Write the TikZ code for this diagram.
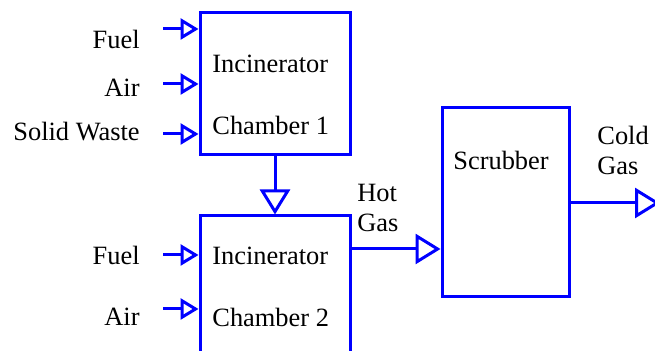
\documentclass[tikz,border=0pt]{standalone}
\usepackage{fontspec}
\setmainfont{LiberationSerif}[Extension=.ttf, UprightFont=*-Regular, BoldFont=*-Bold]
\usetikzlibrary{positioning,arrows.meta}
\definecolor{flowblue}{RGB}{0,0,255}

\begin{document}
\begin{tikzpicture}[
  x=0.5pt, y=-0.5pt,
  font=\rmfamily\fontsize{13.2}{15}\selectfont,
  node distance=29pt,
  unit/.style={rectangle, draw=flowblue, line width=1.5pt, minimum width=75pt,
               minimum height=71pt, inner sep=0pt},
  lbl/.style={inner sep=0pt, align=left},
  feed/.style={-{Triangle[open, length=9pt, width=10.5pt]}, line width=1.5pt, draw=flowblue},
  flow/.style={-{Triangle[open, length=12.5pt, width=15pt]}, line width=1.5pt, draw=flowblue}
]
\useasboundingbox (0,0) rectangle (655,351);
\clip (0,0) rectangle (655,351);
\node[unit] (c1) at (275,84) {};
\node[unit, below=of c1] (c2) {};
\node[unit, minimum width=63.5pt, minimum height=94.5pt] (scr) at (505.5,202.5) {};
\node[lbl, anchor=base east] (fuel1) at (140,49) {Fuel};
\node[lbl, anchor=base east] (air1) at (140,97) {Air};
\node[lbl, anchor=base east] (waste) at (140,141) {Solid Waste};
\node[lbl, anchor=base east] (fuel2) at (140,265) {Fuel};
\node[lbl, anchor=base east] (air2) at (140,326) {Air};
\node[lbl, anchor=base west] (inc1) at (212,73) {Incinerator};
\node[lbl, anchor=base west] (cham1) at (212,135) {Chamber 1};
\node[lbl, anchor=base west] (inc2) at (212,265) {Incinerator};
\node[lbl, anchor=base west] (cham2) at (212,327) {Chamber 2};
\node[lbl, anchor=base west] (scrtxt) at (453,170) {Scrubber};
\node[lbl, anchor=south west] (hotgas) at (357,232) {Hot\\Gas};
\node[lbl, anchor=south west] (coldgas) at (597,175) {Cold\\Gas};
\coordinate (f1) at (163,29);
\coordinate (a1) at (163,84);
\coordinate (w1) at (163,134);
\coordinate (f2) at (163,255);
\coordinate (a2) at (163,309);
\coordinate (hg) at (350,249);
\coordinate (cg) at (660,203);
\draw[feed] (f1) -- (f1 -| c1.west);
\draw[feed] (a1) -- (a1 -| c1.west);
\draw[feed] (w1) -- (w1 -| c1.west);
\draw[feed] (f2) -- (f2 -| c2.west);
\draw[feed] (a2) -- (a2 -| c2.west);
\draw[flow] (c1) -- (c2);
\draw[flow] (hg -| c2.east) -- (hg -| scr.west);
\draw[flow] (cg -| scr.east) -- (cg);
\end{tikzpicture}
\end{document}
